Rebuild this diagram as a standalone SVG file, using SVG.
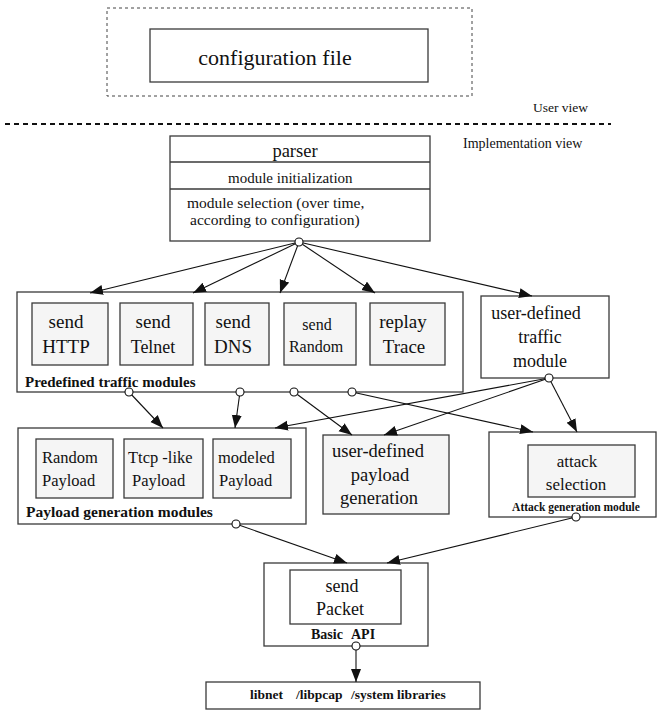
<svg xmlns="http://www.w3.org/2000/svg" width="659" height="711" viewBox="0 0 659 711">
  <style>
    .box { fill: #ffffff; stroke: #3a3a3a; stroke-width: 1.3; }
    .inner { fill: #f5f5f5; stroke: #3a3a3a; stroke-width: 1.3; }
    .t { font-family: "Liberation Serif", "Times New Roman", serif; fill: #111; }
    .c { text-anchor: middle; }
    .b { font-weight: bold; }
    .edge { stroke: #111; stroke-width: 1.1; fill: none; marker-end: url(#arrow); }
    .port { fill: #ffffff; stroke: #111; stroke-width: 1.1; }
  </style>
  <defs>
    <marker id="arrow" markerUnits="userSpaceOnUse" markerWidth="14" markerHeight="11" refX="13" refY="5" orient="auto">
      <path d="M0,0 L13,5 L0,10 z" fill="#111"/>
    </marker>
  </defs>

  <rect width="659" height="711" fill="#ffffff"/>

  <!-- user view: configuration file -->
  <g id="user-view">
    <rect x="107" y="8" width="365" height="88" fill="none" stroke="#444" stroke-width="1" stroke-dasharray="3,3"/>
    <rect class="box" x="150" y="29" width="278" height="53"/>
    <text class="t c" x="275" y="65" font-size="22">configuration file</text>
  </g>

  <!-- view separator -->
  <line x1="5" y1="124" x2="611" y2="124" stroke="#111" stroke-width="2" stroke-dasharray="5,4"/>
  <text class="t" x="533" y="112" font-size="13.5">User view</text>
  <text class="t" x="463" y="148" font-size="14">Implementation view</text>

  <!-- parser -->
  <g id="parser">
    <rect class="box" x="170" y="136" width="260" height="105"/>
    <line x1="170" y1="162" x2="430" y2="162" stroke="#3a3a3a" stroke-width="1.3"/>
    <line x1="170" y1="189" x2="430" y2="189" stroke="#3a3a3a" stroke-width="1.3"/>
    <text class="t c" x="295" y="157" font-size="18.5">parser</text>
    <text class="t" x="228" y="183" font-size="15">module initialization</text>
    <text class="t" x="187" y="208" font-size="15.5">module selection (over time,</text>
    <text class="t" x="190" y="225" font-size="15.5">according to configuration)</text>
  </g>

  <!-- predefined traffic modules -->
  <g id="predefined-traffic">
    <rect class="box" x="17" y="292" width="446" height="100"/>
    <rect class="inner" x="32" y="303" width="76" height="62"/>
    <text class="t c" x="66" y="328" font-size="19">send</text>
    <text class="t c" x="66" y="353" font-size="19">HTTP</text>
    <rect class="inner" x="120" y="303" width="73" height="62"/>
    <text class="t c" x="153" y="328" font-size="19">send</text>
    <text class="t c" x="153" y="353" font-size="18">Telnet</text>
    <rect class="inner" x="205" y="303" width="64" height="62"/>
    <text class="t c" x="233" y="328" font-size="19">send</text>
    <text class="t c" x="233" y="353" font-size="19">DNS</text>
    <rect class="inner" x="284" y="303" width="72" height="62"/>
    <text class="t c" x="317" y="330" font-size="16">send</text>
    <text class="t c" x="316" y="352" font-size="16">Random</text>
    <rect class="inner" x="370" y="303" width="75" height="62"/>
    <text class="t c" x="403" y="328" font-size="19">replay</text>
    <text class="t c" x="404" y="353" font-size="19">Trace</text>
    <text class="t b" x="25" y="387" font-size="15">Predefined traffic modules</text>
  </g>

  <!-- user-defined traffic module -->
  <g id="user-traffic">
    <rect class="box" x="481" y="296" width="128" height="82"/>
    <text class="t c" x="536" y="319" font-size="18">user-defined</text>
    <text class="t c" x="540" y="343" font-size="18">traffic</text>
    <text class="t c" x="540" y="367" font-size="18">module</text>
  </g>

  <!-- payload generation modules -->
  <g id="payload-generation">
    <rect class="box" x="18" y="428" width="288" height="96"/>
    <rect class="inner" x="36" y="439" width="77" height="59"/>
    <text class="t" x="42" y="463" font-size="16.5">Random</text>
    <text class="t" x="42" y="486" font-size="16.5">Payload</text>
    <rect class="inner" x="124" y="439" width="79" height="59"/>
    <text class="t" x="128" y="463" font-size="16.5">Ttcp -like</text>
    <text class="t" x="132" y="486" font-size="16.5">Payload</text>
    <rect class="inner" x="213" y="439" width="78" height="59"/>
    <text class="t" x="218" y="463" font-size="16.5">modeled</text>
    <text class="t" x="219" y="486" font-size="16.5">Payload</text>
    <text class="t b" x="26" y="517" font-size="15.5">Payload generation modules</text>
  </g>

  <!-- user-defined payload generation -->
  <g id="user-payload">
    <rect class="inner" x="323" y="435" width="126" height="79"/>
    <text class="t c" x="378" y="457" font-size="18.5">user-defined</text>
    <text class="t c" x="380" y="481" font-size="18.5">payload</text>
    <text class="t c" x="379" y="504" font-size="18.5">generation</text>
  </g>

  <!-- attack generation module -->
  <g id="attack-generation">
    <rect class="box" x="489" y="432" width="167" height="85"/>
    <rect class="inner" x="528" y="445" width="107" height="52"/>
    <text class="t c" x="577" y="467" font-size="17">attack</text>
    <text class="t c" x="576" y="490" font-size="17">selection</text>
    <text class="t b c" x="576" y="511" font-size="11.5">Attack generation module</text>
  </g>

  <!-- basic API -->
  <g id="basic-api">
    <rect class="box" x="264" y="563" width="164" height="83"/>
    <rect class="box" x="290" y="570" width="111" height="54"/>
    <text class="t c" x="342" y="592" font-size="18">send</text>
    <text class="t c" x="340" y="615" font-size="18">Packet</text>
    <text class="t b" y="639" font-size="14"><tspan x="311">Basic</tspan><tspan x="351">API</tspan></text>
  </g>

  <!-- system libraries -->
  <g id="system-libraries">
    <rect class="box" x="206" y="682" width="274" height="27"/>
    <text class="t b" y="699" font-size="13.5"><tspan x="250">libnet</tspan><tspan x="296">/libpcap</tspan><tspan x="351">/system libraries</tspan></text>
  </g>

  <!-- connectors -->
  <g id="connectors">
    <line class="edge" x1="299" y1="242" x2="90" y2="293"/>
    <line class="edge" x1="299" y1="242" x2="193" y2="293"/>
    <line class="edge" x1="299" y1="242" x2="280" y2="293"/>
    <line class="edge" x1="299" y1="242" x2="375" y2="293"/>
    <line class="edge" x1="299" y1="242" x2="532" y2="296"/>
    <line class="edge" x1="129" y1="392" x2="163" y2="428"/>
    <line class="edge" x1="240" y1="392" x2="235" y2="428"/>
    <line class="edge" x1="294" y1="392" x2="352" y2="435"/>
    <line class="edge" x1="352" y1="392" x2="533" y2="432"/>
    <line class="edge" x1="549" y1="378" x2="275" y2="428"/>
    <line class="edge" x1="549" y1="378" x2="384" y2="435"/>
    <line class="edge" x1="549" y1="378" x2="577" y2="432"/>
    <line class="edge" x1="236" y1="524" x2="347" y2="563"/>
    <line class="edge" x1="576" y1="517" x2="387" y2="563"/>
    <line class="edge" x1="356" y1="646" x2="356" y2="682"/>
    <circle class="port" cx="299" cy="242" r="4"/>
    <circle class="port" cx="129" cy="392" r="4"/>
    <circle class="port" cx="240" cy="392" r="4"/>
    <circle class="port" cx="294" cy="392" r="4"/>
    <circle class="port" cx="352" cy="392" r="4"/>
    <circle class="port" cx="549" cy="378" r="4"/>
    <circle class="port" cx="236" cy="524" r="4"/>
    <circle class="port" cx="576" cy="517" r="4"/>
    <circle class="port" cx="356" cy="646" r="4"/>
  </g>
</svg>
